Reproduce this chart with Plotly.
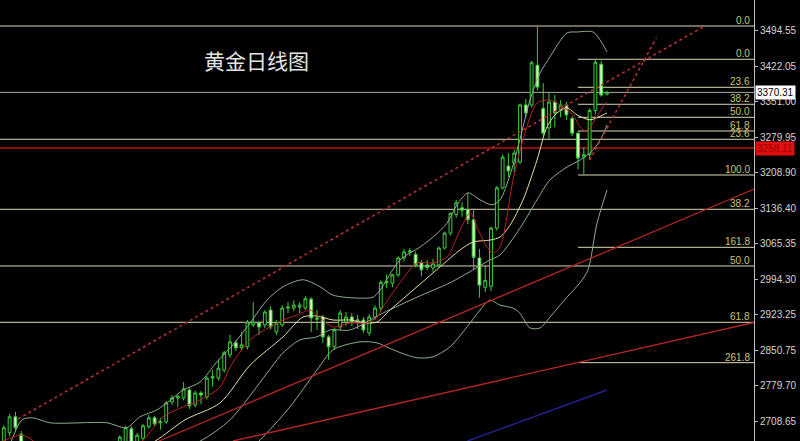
import plotly.graph_objects as go

# ---------------- data ----------------
opens = [2660, 2685, 2717, 2682, 2655, 2638, 2645, 2640, 2622, 2633,
         2645, 2658, 2648, 2637, 2642, 2652, 2646, 2628, 2640, 2655,
         2662, 2664, 2693, 2665, 2674, 2697, 2715, 2705, 2707, 2747,
         2755, 2755, 2771, 2741, 2765, 2757, 2795, 2795, 2811, 2842,
         2866, 2856, 2858, 2902, 2906, 2902, 2932, 2888, 2902, 2936,
         2936, 2938, 2936, 2954, 2916, 2918, 2878, 2858, 2898, 2908,
         2918, 2910, 2912, 2886, 2918, 2936, 2987, 2986, 3003, 3037,
         3049, 3044, 3027, 3023, 3017, 3023, 3057, 3087, 3124, 3138,
         3134, 3114, 3037, 2978, 2980, 3097, 3178, 3222, 3228, 3230,
         3345, 3345, 3425, 3338, 3299, 3351, 3335, 3345, 3318, 3288,
         3240, 3245, 3334, 3427, 3367]
highs = [2700, 2723, 2727, 2688, 2662, 2650, 2660, 2652, 2640, 2650,
         2664, 2665, 2660, 2650, 2658, 2664, 2655, 2648, 2662, 2664,
         2680, 2699, 2698, 2685, 2703, 2721, 2719, 2715, 2749, 2761,
         2762, 2787, 2776, 2770, 2769, 2799, 2811, 2832, 2850, 2882,
         2871, 2888, 2912, 2948, 2910, 2932, 2940, 2912, 2942, 2948,
         2952, 2948, 2960, 2958, 2932, 2922, 2882, 2896, 2932, 2928,
         2926, 2922, 2918, 2924, 2942, 2992, 3004, 3005, 3040, 3055,
         3057, 3050, 3033, 3033, 3035, 3060, 3090, 3128, 3154, 3149,
         3168, 3136, 3055, 3022, 3100, 3182, 3245, 3248, 3255, 3348,
         3357, 3434, 3502, 3389, 3371, 3365, 3355, 3351, 3322, 3292,
         3260, 3338, 3437, 3434, 3374]
lows = [2650, 2678, 2688, 2640, 2630, 2625, 2635, 2615, 2610, 2628,
        2640, 2640, 2632, 2625, 2636, 2640, 2620, 2622, 2635, 2645,
        2655, 2658, 2657, 2660, 2670, 2693, 2699, 2691, 2703, 2741,
        2737, 2750, 2733, 2736, 2743, 2752, 2778, 2790, 2806, 2836,
        2850, 2851, 2853, 2898, 2882, 2896, 2893, 2882, 2898, 2926,
        2930, 2926, 2932, 2888, 2892, 2866, 2832, 2852, 2892, 2900,
        2900, 2894, 2886, 2880, 2912, 2930, 2976, 2978, 2998, 3030,
        3041, 3018, 3000, 3012, 3009, 3018, 3054, 3082, 3118, 3120,
        3105, 3015, 2957, 2968, 2970, 3092, 3175, 3200, 3210, 3226,
        3320, 3340, 3375, 3282, 3275, 3300, 3320, 3315, 3282, 3215,
        3204, 3236, 3326, 3362, 3364]
closes = [2695, 2717, 2695, 2650, 2638, 2645, 2640, 2622, 2633, 2645,
          2658, 2648, 2637, 2642, 2652, 2646, 2628, 2640, 2655, 2660,
          2676, 2695, 2664, 2680, 2699, 2715, 2703, 2707, 2745, 2755,
          2758, 2773, 2739, 2765, 2761, 2795, 2798, 2815, 2846, 2868,
          2856, 2862, 2908, 2908, 2898, 2928, 2898, 2906, 2936, 2938,
          2942, 2942, 2955, 2916, 2914, 2878, 2858, 2892, 2926, 2918,
          2908, 2912, 2892, 2918, 2936, 2988, 2990, 3003, 3037, 3049,
          3051, 3022, 3013, 3018, 3025, 3057, 3087, 3127, 3148, 3133,
          3114, 3038, 2982, 2992, 3097, 3178, 3240, 3212, 3248, 3345,
          3329, 3430, 3381, 3288, 3351, 3329, 3345, 3325, 3288, 3238,
          3245, 3334, 3431, 3365, 3370.31]
bars = list(range(len(opens)))

# indicator lines (bar position, price)
upper_x = [0.72, 3.14, 5.03, 7.97, 17.8, 20.03, 21.24, 23.48, 26.41, 29.17, 30.9, 33.83,
           36.76, 39.52, 42.45, 45.38, 48.14, 51.59, 54.52, 56.76, 61.41, 63.66, 64.86,
           68.31, 71.76, 74.0, 76.41, 78.14, 80.03, 82.1, 84.17, 85.55, 87.28, 88.97,
           90.72, 92.45, 94.17, 97.1, 98.83, 101.59, 102.79, 104.0]
upper_y = [2650, 2711, 2715, 2705, 2705, 2697, 2695, 2717, 2731, 2755, 2771, 2787,
           2828, 2862, 2906, 2952, 2979, 2993, 2979, 2962, 2956, 2958, 2972,
           3033, 3059, 3079, 3107, 3144, 3168, 3154, 3144, 3154, 3204, 3275,
           3355, 3409, 3442, 3490, 3492, 3492, 3476, 3452]
mid_x = [20.0, 33.83, 39.0, 45.38, 48.14, 51.07, 53.97, 56.24, 59.69, 65.38, 71.24,
         76.93, 80.9, 83.83, 85.55, 89.0, 91.93, 94.17, 97.1, 99.34, 101.59, 103.31, 104.0]
mid_y = [2600, 2668, 2711, 2805, 2846, 2872, 2878, 2892, 2892, 2926, 2958,
         2987, 3013, 3033, 3043, 3097, 3154, 3194, 3220, 3234, 3254, 3285, 3305]
lower_x = [40.72, 45.38, 49.34, 53.97, 56.76, 61.41, 64.34, 67.1, 71.24, 74.0, 76.93,
           79.86, 82.1, 83.83, 85.55, 87.79, 88.97, 90.72, 92.45, 94.17, 97.1, 99.34,
           100.72, 102.28, 104.0]
lower_y = [2630, 2685, 2737, 2811, 2852, 2868, 2866, 2852, 2836, 2838, 2858,
           2898, 2932, 2952, 2942, 2936, 2926, 2896, 2896, 2918, 2958, 2987,
           3013, 3107, 3174]
ma_red_x = [-0.66, 1.07, 2.79, 4.52, 6.24, 13.0, 20.03, 24.0, 27.45, 30.9, 33.83, 37.28,
            39.0, 42.45, 45.9, 48.14, 50.55, 52.79, 53.97, 56.76, 59.69, 62.62, 64.34,
            65.38, 68.31, 71.24, 74.0, 76.41, 78.66, 80.38, 81.59, 83.31, 84.34, 85.55,
            87.79, 89.52, 91.93, 94.17, 96.41, 98.14, 99.34, 100.55, 101.59, 103.31, 104.0]
ma_red_y = [2666, 2674, 2680, 2674, 2654, 2630, 2640, 2670, 2717, 2737, 2751, 2777,
            2817, 2872, 2898, 2912, 2922, 2932, 2922, 2898, 2906, 2906, 2918,
            2938, 2987, 3027, 3027, 3039, 3093, 3128, 3099, 3059, 3047, 3059,
            3194, 3275, 3349, 3355, 3341, 3325, 3301, 3291, 3309, 3341, 3351]
ma_cream_x = [16.6, 26.07, 31.24, 37.28, 42.45, 48.14, 51.59, 54.0, 56.76, 59.69, 62.62,
              64.34, 66.59, 71.24, 75.21, 78.66, 80.9, 83.83, 85.55, 87.28, 89.52, 91.93,
              93.66, 95.38, 97.1, 98.83, 101.07, 103.31, 104.0]
ma_cream_y = [2610, 2668, 2711, 2745, 2821, 2878, 2918, 2920, 2912, 2912, 2906,
              2908, 2932, 2979, 3019, 3053, 3069, 3073, 3079, 3103, 3154, 3234,
              3301, 3329, 3339, 3325, 3315, 3325, 3329]

# drawn objects: trend lines (bar position, price)
trend_up = [(26.76, 2668.4), (135.0, 3203.5)]
trend_low = [(39.52, 2668.4), (135.0, 2922.0)]
trend_dot = [(2.45, 2712.7), (120.7, 3503.0)]
trend_dot2 = [(101.0, 3234.0), (112.5, 3480.0)]
trend_blue = [(79.95, 2668.4), (104.0, 2771.1)]

# Fibonacci levels
fib_full = [("0.0", 3504.0), ("23.6", 3275.9), ("38.2", 3134.9), ("50.0", 3020.8), ("61.8", 2907.4)]
fib_short = [("0.0", 3437.0), ("23.6", 3380.6), ("38.2", 3346.4), ("50.0", 3320.2),
             ("61.8", 3292.6), ("100.0", 3204.0), ("161.8", 3058.4), ("261.8", 2826.1)]
fib_short_start = 99.0
last_price = 3370.31
red_level = 3258.11

tick_vals = [3494.55, 3422.05, 3351.00, 3279.95, 3208.90, 3136.40, 3065.35,
             2994.30, 2923.25, 2850.75, 2779.70, 2708.65]
tick_text = ["3494.55", "3422.05", "3351.00", "3279.95", "3208.90", "3136.40", "3065.35",
             "2994.30", "2923.25", "2850.75", "2779.70", "2708.65"]

# ---------------- figure ----------------
GREEN = "#3ccf3c"
PALE = "#e6f2cc"
BAND = "#8fae8f"
CREAM = "#e6dfa6"
RED = "#b52525"
FIBC = "#dcd8b4"
FIBT = "#cfc473"

X0, X1 = -0.655, 129.34
Y0, Y1 = 2668.38, 3556.37

fig = go.Figure()

fig.add_trace(go.Candlestick(
    x=bars, open=opens, high=highs, low=lows, close=closes,
    increasing=dict(line=dict(color=GREEN, width=1), fillcolor="#000000"),
    decreasing=dict(line=dict(color=GREEN, width=1), fillcolor=PALE),
    whiskerwidth=0, showlegend=False, hoverinfo="skip"))

for xs, ys, col in [(upper_x, upper_y, BAND), (mid_x, mid_y, BAND), (lower_x, lower_y, BAND),
                    (ma_cream_x, ma_cream_y, CREAM), (ma_red_x, ma_red_y, RED)]:
    fig.add_trace(go.Scatter(x=xs, y=ys, mode="lines",
                             line=dict(color=col, width=1, shape="spline", smoothing=0.8),
                             showlegend=False, hoverinfo="skip"))

shapes = []
for _, lv in fib_full:
    shapes.append(dict(type="line", xref="x", yref="y", x0=X0, x1=X1, y0=lv, y1=lv,
                       line=dict(color=FIBC, width=1), layer="below"))
for _, lv in fib_short:
    shapes.append(dict(type="line", xref="x", yref="y", x0=fib_short_start, x1=X1, y0=lv, y1=lv,
                       line=dict(color=FIBC, width=1), layer="below"))
shapes.append(dict(type="line", xref="x", yref="y", x0=X0, x1=X1, y0=last_price, y1=last_price,
                   line=dict(color="#a8a8a8", width=1), layer="below"))
shapes.append(dict(type="line", xref="x", yref="y", x0=X0, x1=X1, y0=red_level, y1=red_level,
                   line=dict(color="#c41010", width=1.5), layer="below"))
for seg, col, dash, w in [(trend_up, RED, "solid", 1.3), (trend_low, RED, "solid", 1.3),
                          (trend_dot, "#b03030", "dot", 1.6), (trend_dot2, "#b03030", "dot", 1.6),
                          (trend_blue, "#22228e", "solid", 1.5)]:
    shapes.append(dict(type="line", xref="x", yref="y", x0=seg[0][0], y0=seg[0][1],
                       x1=seg[1][0], y1=seg[1][1], line=dict(color=col, width=w, dash=dash)))

annotations = []
for lab, lv in fib_full + fib_short:
    annotations.append(dict(x=0.997, xref="paper", y=lv, yref="y", text=lab, showarrow=False,
                            xanchor="right", yanchor="bottom", yshift=-2,
                            font=dict(family="Liberation Sans", size=10, color=FIBT)))
annotations.append(dict(x=1.0, xref="paper", xshift=1, y=last_price, yref="y", text="3370.31",
                        showarrow=False, xanchor="left", yanchor="middle", bgcolor="#ffffff",
                        borderpad=1, font=dict(family="Liberation Sans", size=10, color="#000000")))
annotations.append(dict(x=1.0, xref="paper", xshift=1, y=red_level, yref="y", text="3258.11",
                        showarrow=False, xanchor="left", yanchor="middle", bgcolor="#e01010",
                        borderpad=1, font=dict(family="Liberation Sans", size=10, color="#9a0000")))
annotations.append(dict(x=256 / 754, xref="paper", y=0.864, yref="paper", text="黄金日线图",
                        showarrow=False, xanchor="center", yanchor="middle",
                        font=dict(family="Noto Sans CJK SC", size=21, color="#e4e4e4")))

fig.update_layout(
    width=800, height=441, autosize=False,
    margin=dict(l=0, r=46, t=0, b=0, pad=0),
    paper_bgcolor="#000000", plot_bgcolor="#000000",
    shapes=shapes, annotations=annotations,
    xaxis=dict(range=[X0, X1], visible=False, rangeslider=dict(visible=False),
               fixedrange=True, automargin=False),
    yaxis=dict(range=[Y0, Y1], side="right", tickvals=tick_vals, ticktext=tick_text,
               ticks="outside", ticklen=3, tickcolor="#bdbdbd", showline=True,
               linecolor="#bdbdbd", linewidth=1, showgrid=False, zeroline=False,
               automargin=False,
               tickfont=dict(family="Liberation Sans", size=10, color="#d6d6d6")),
)

fig.write_html("out.html",
               config={"displayModeBar": False},
               post_script="document.body.style.margin='0';document.body.style.padding='0';"
                           "document.body.style.overflow='hidden';"
                           "document.body.style.background='#000';")
